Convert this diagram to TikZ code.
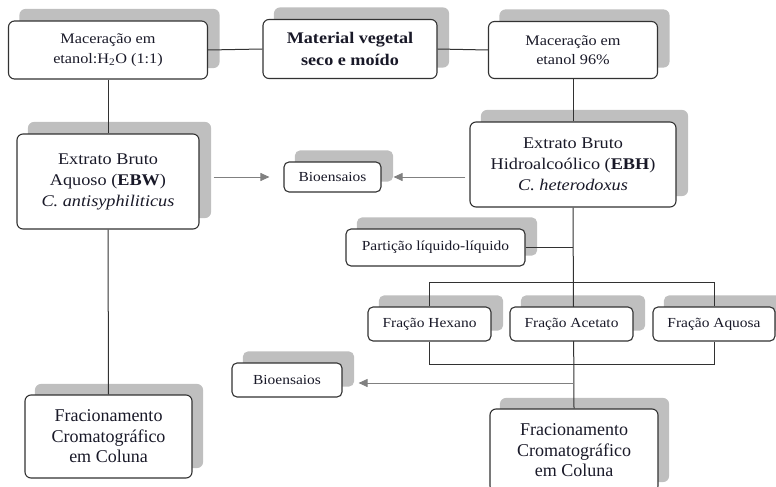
\documentclass[tikz,border=0pt]{standalone}
\usepackage{fontspec}
\setmainfont{Liberation Serif}[FakeStretch=1.12]
\newfontfamily\plainserif{Liberation Serif}
\usetikzlibrary{arrows.meta}
\pgfdeclarelayer{shadowlayer}
\pgfdeclarelayer{linelayer}
\pgfsetlayers{shadowlayer,linelayer,main}
\definecolor{shc}{RGB}{191,191,191}
\definecolor{bordc}{RGB}{50,50,50}
\definecolor{linec}{RGB}{50,50,50}
\definecolor{arrc}{RGB}{128,128,128}
\definecolor{txtc}{RGB}{25,25,40}
\tikzset{
  box/.style={draw=bordc, line width=1.1pt, fill=white, rounded corners=6pt,
    inner sep=0pt, align=center, text=txtc},
  conn/.style={draw=linec, line width=1pt},
  arr/.style={draw=arrc, line width=0.9pt, -{Triangle[length=9pt,width=8pt]}},
}
\begin{document}
\begin{tikzpicture}[x=1pt,y=-1pt]
\useasboundingbox (0,0) rectangle (776,487);
% top row
\node[box, minimum width=199pt, minimum height=58pt, font=\fontsize{14.5}{20}\selectfont] (m1) at (108,50)
  {Maceração em\\etanol:H\textsubscript{2}O (1:1)};
\node[box, minimum width=174pt, minimum height=59pt, font=\fontsize{16.2}{22}\selectfont\bfseries] (mat) at (350,49)
  {Material vegetal\\seco e moído};
\node[box, minimum width=169pt, minimum height=57pt, font=\fontsize{14.5}{19.5}\selectfont] (m3) at (573,50)
  {Maceração em\\etanol 96\%};
% extracts
\node[box, minimum width=182pt, minimum height=95pt, font=\fontsize{16.3}{21}\selectfont] (ebw) at (108,181.5)
  {Extrato Bruto\\Aquoso (\textbf{EBW})\\\textit{C. antisyphiliticus}};
\node[box, minimum width=206pt, minimum height=85pt, font=\fontsize{16.3}{21}\selectfont] (ebh) at (573,164.5)
  {Extrato Bruto\\Hidroalcoólico (\textbf{EBH})\\\textit{C. heterodoxus}};
\node[box, rounded corners=5pt, minimum width=97pt, minimum height=30pt, font=\fontsize{13.8}{17}\selectfont] (bio1) at (332.5,177)
  {Bioensaios};
\node[box, rounded corners=5pt, minimum width=179pt, minimum height=37pt, font=\fontsize{13.8}{17}\selectfont] (part) at (435.5,247.5)
  {Partição líquido-líquido};
% fractions
\node[box, rounded corners=5pt, minimum width=123pt, minimum height=34pt, font=\fontsize{13.8}{17}\selectfont] (hex) at (429.5,324)
  {Fração Hexano};
\node[box, rounded corners=5pt, minimum width=123pt, minimum height=34pt, font=\fontsize{13.8}{17}\selectfont] (ace) at (571.5,324)
  {Fração Acetato};
\node[box, rounded corners=5pt, minimum width=122pt, minimum height=34pt, font=\fontsize{13.8}{17}\selectfont] (aq) at (714,324)
  {Fração Aquosa};
\node[box, rounded corners=5pt, minimum width=110pt, minimum height=34pt, font=\fontsize{13.8}{17}\selectfont] (bio2) at (287,380)
  {Bioensaios};
% bottom
\node[box, minimum width=167pt, minimum height=83pt, font=\plainserif\fontsize{18}{20.5}\selectfont] (fracL) at (108.5,436.5)
  {Fracionamento\\Cromatográfico\\em Coluna};
\node[box, minimum width=168pt, minimum height=83pt, font=\plainserif\fontsize{18}{20.5}\selectfont] (fracR) at (574,450.5)
  {Fracionamento\\Cromatográfico\\em Coluna};
% shadows
\begin{pgfonlayer}{shadowlayer}
\foreach \n in {m1,mat,m3,ebw,ebh}
  \fill[shc, rounded corners=6pt] ([shift={(11.5,-11.5)}]\n.south west) rectangle ([shift={(11.5,-11.5)}]\n.north east);
\foreach \n in {bio1,part,hex,ace,aq,bio2}
  \fill[shc, rounded corners=5pt] ([shift={(11.5,-11)}]\n.south west) rectangle ([shift={(11.5,-11)}]\n.north east);
\foreach \n in {fracL,fracR}
  \fill[shc, rounded corners=6pt] ([shift={(10.5,-10.5)}]\n.south west) rectangle ([shift={(10.5,-10.5)}]\n.north east);
\end{pgfonlayer}
% connectors
\begin{pgfonlayer}{linelayer}
\coordinate (bt) at (430,282);
\coordinate (bb) at (430,364);
\draw[conn] (m1.east) -- (mat.west);
\draw[conn] (mat.east) -- (m3.west);
\draw[conn] (m1.south) -- (ebw.north);
\draw[conn] (ebw.south) -- (fracL.north);
\draw[conn] (m3.south) -- (ebh.north);
\draw[conn] (ebh.south) -- (fracR.north);
\draw[conn] (part.east) -- (part.east -| ebh.south);
\draw[conn] (hex.north) -- (hex.north |- bt) -- (aq.north |- bt) -- (aq.north);
\draw[conn] (hex.south) -- (hex.south |- bb) -- (aq.south |- bb) -- (aq.south);
\draw[arr, shorten <=14pt, shorten >=14pt] (bio1.west -| ebw.east) -- (bio1.west);
\draw[arr, shorten <=4pt, shorten >=12pt] (bio1.east -| ebh.west) -- (bio1.east);
\draw[arr, shorten >=16pt] ([yshift=-3pt]bio2.east -| fracR.north) -- ([yshift=-3pt]bio2.east);
\end{pgfonlayer}
\end{tikzpicture}
\end{document}
